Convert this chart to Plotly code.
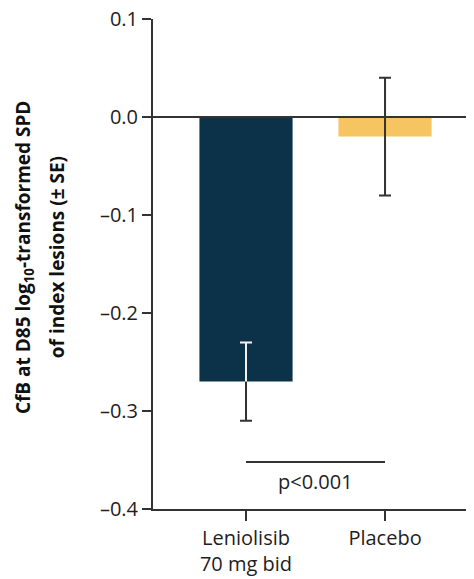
import plotly.graph_objects as go

categories = ["Leniolisib<br>70 mg bid", "Placebo"]
cfb_values = [-0.27, -0.02]
se_values = [0.04, 0.06]
bar_colors = ["#0b3249", "#f7c462"]
y_ticks = [0.1, 0.0, -0.1, -0.2, -0.3, -0.4]
y_tick_labels = ["0.1", "0.0", "\u20130.1", "\u20130.2", "\u20130.3", "\u20130.4"]
p_text = "p<0.001"
p_line_value = -0.352
p_text_value = -0.372
title_line1 = "CfB at D85 log<sub>10</sub>-transformed SPD"
title_line2 = "of index lesions (± SE)"

FONT = "Open Sans"
DARK = "#333333"
TXT = "#1e1e1e"

fig = go.Figure()

fig.add_trace(go.Bar(
    x=categories, y=cfb_values,
    marker=dict(color=bar_colors, line=dict(width=0)),
    width=0.67, showlegend=False, hoverinfo="skip",
))

# dark error bars (full, symmetric)
fig.add_trace(go.Scatter(
    x=categories, y=cfb_values, mode="markers",
    marker=dict(size=1, opacity=0),
    error_y=dict(type="data", array=se_values, visible=True,
                 color=DARK, thickness=2, width=6),
    showlegend=False, hoverinfo="skip",
))

# white upper segment inside the dark bar (Leniolisib only)
fig.add_trace(go.Scatter(
    x=categories[:1], y=cfb_values[:1], mode="markers",
    marker=dict(size=1, opacity=0),
    error_y=dict(type="data", symmetric=False, array=se_values[:1],
                 arrayminus=[0], visible=True,
                 color="#f2f2f2", thickness=2, width=0),
    showlegend=False, hoverinfo="skip",
))
# white cap at top of Leniolisib error bar
fig.add_trace(go.Scatter(
    x=categories[:1], y=[cfb_values[0] + se_values[0]], mode="markers",
    marker=dict(size=1, opacity=0),
    error_y=dict(type="data", array=[0], visible=True,
                 color="#f2f2f2", thickness=2, width=6),
    showlegend=False, hoverinfo="skip",
))

# significance line
fig.add_trace(go.Scatter(
    x=categories, y=[p_line_value, p_line_value], mode="lines",
    line=dict(color=DARK, width=2),
    showlegend=False, hoverinfo="skip",
))

fig.add_annotation(
    x=0.5, y=p_text_value, xref="x", yref="y", text=p_text,
    showarrow=False, font=dict(family=FONT, size=20, color=TXT),
    xanchor="center", yanchor="middle",
)

# zero line on top
fig.add_shape(type="line", xref="paper", yref="y", x0=0, x1=1, y0=0, y1=0,
              line=dict(color=DARK, width=2), layer="above")

fig.add_annotation(
    x=-0.402, y=0.514, xref="paper", yref="paper", text="<b>" + title_line1 + "</b>",
    textangle=-90, showarrow=False, xanchor="center", yanchor="middle",
    font=dict(family=FONT, size=19, color="#111111"),
)
fig.add_annotation(
    x=-0.299, y=0.514, xref="paper", yref="paper", text="<b>" + title_line2 + "</b>",
    textangle=-90, showarrow=False, xanchor="center", yanchor="middle",
    font=dict(family=FONT, size=19, color="#111111"),
)

fig.update_layout(
    width=466, height=571,
    margin=dict(l=145, r=0, t=11, b=70, autoexpand=False),
    paper_bgcolor="white", plot_bgcolor="white",
    font=dict(family=FONT, size=20, color=TXT),
    bargap=0.33,
    xaxis=dict(
        type="category", range=[-0.669, 1.64], automargin=False,
        showline=True, linecolor=DARK, linewidth=2,
        ticks="outside", ticklen=10, tickwidth=2, tickcolor=DARK,
        showgrid=False, zeroline=False,
        tickfont=dict(family=FONT, size=20, color=TXT),
    ),
    yaxis=dict(
        range=[-0.4, 0.1], tickvals=y_ticks, ticktext=y_tick_labels,
        automargin=False,
        showline=True, linecolor=DARK, linewidth=2,
        ticks="outside", ticklen=9, tickwidth=2, tickcolor=DARK,
        showgrid=False, zeroline=False, ticklabeloverflow="allow",
        tickfont=dict(family=FONT, size=20, color=TXT),
    ),
)

fig.write_html("out.html")
